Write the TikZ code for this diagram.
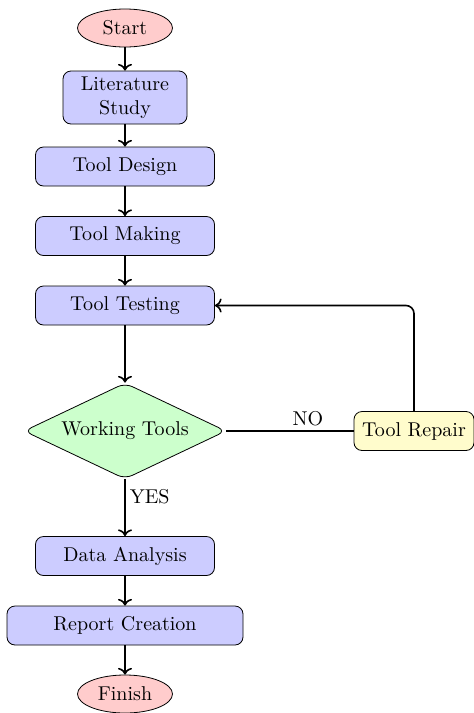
\documentclass[tikz,border=0pt]{standalone}
\usetikzlibrary{shapes.geometric,arrows.meta}
\begin{document}
\begin{tikzpicture}[x=0.5pt,y=-0.5pt,
  every node/.style={font=\normalsize},
  term/.style={ellipse,draw=black,fill=red!20,minimum width=47.5pt,minimum height=19pt,inner sep=0pt},
  proc/.style={rectangle,rounded corners=4pt,draw=black,fill=blue!20,minimum width=89.5pt,minimum height=19.5pt,inner sep=2pt},
  decide/.style={diamond,aspect=2,rounded corners=4pt,draw=black,fill=green!20,minimum width=101pt,minimum height=48pt,inner sep=0pt},
  fix/.style={rectangle,rounded corners=4pt,draw=black,fill=yellow!20,minimum width=60pt,minimum height=19.5pt,inner sep=2pt},
  flow/.style={thick,->}]
\useasboundingbox (0,0) rectangle (474,713);

\node[term] (start) at (125,28) {Start};
\node[proc,minimum width=62pt,minimum height=26.5pt,text width=52pt,align=center] (lit) at (125,97.5) {Literature\\Study};
\node[proc] (design) at (125,166.5) {Tool Design};
\node[proc] (making) at (125,236) {Tool Making};
\node[proc] (testing) at (125,305.5) {Tool Testing};
\node[decide] (work) at (125,431) {Working Tools};
\node[fix] (repair) at (414,431) {Tool Repair};
\node[proc] (data) at (125,556) {Data Analysis};
\node[proc,minimum width=118pt] (report) at (125,625.5) {Report Creation};
\node[term] (finish) at (125,694) {Finish};

\draw[flow] (start) -- (lit);
\draw[flow] (lit) -- (design);
\draw[flow] (design) -- (making);
\draw[flow] (making) -- (testing);
\draw[flow] (testing) -- (work);
\draw[thick] (work.east) -- node[pos=0.64,above,inner sep=2pt] (no) {NO} (repair.west);
\draw[flow,rounded corners=4pt] (repair.north) |- (testing.east);
\draw[flow] (work.south) -- node[pos=0.3,right,inner sep=2pt] (yes) {YES} (data);
\draw[flow] (data) -- (report);
\draw[flow] (report) -- (finish);
\end{tikzpicture}
\end{document}
